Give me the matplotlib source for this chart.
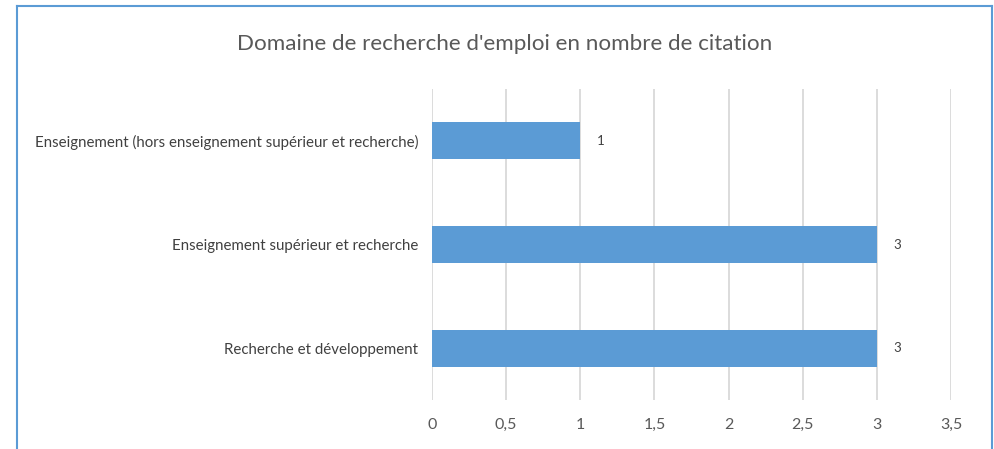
import matplotlib
matplotlib.use("Agg")
import matplotlib.pyplot as plt

categories = ["Enseignement (hors enseignement supérieur et recherche)",
              "Enseignement supérieur et recherche",
              "Recherche et développement"]
values = [1, 3, 3]
xticks = [0, 0.5, 1, 1.5, 2, 2.5, 3, 3.5]
xticklabels = ["0", "0,5", "1", "1,5", "2", "2,5", "3", "3,5"]
title = "Domaine de recherche d'emploi en nombre de citation"

plt.rcParams['font.family'] = ['Lato', 'DejaVu Sans']
W, H = 995, 449
fig = plt.figure(figsize=(W/100, H/100), dpi=100)
fig.patch.set_facecolor('white')

left, right = 432/W, 951/W
top, bottom = 1 - 89/H, 1 - 400/H
ax = fig.add_axes([left, bottom, right-left, top-bottom])

ypos = list(range(len(categories)))
ax.barh(ypos, values, height=0.36, color='#5B9BD5', zorder=3)
ax.set_ylim(len(categories)-0.5, -0.5)
ax.set_xlim(0, 3.5)
ax.set_yticks(ypos)
ax.set_yticklabels(categories, fontsize=10.8, color='#404040')
ax.set_xticks(xticks)
ax.set_xticklabels(xticklabels, fontsize=11.5, color='#595959')
ax.tick_params(axis='both', length=0)
ax.tick_params(axis='y', pad=10)
ax.tick_params(axis='x', pad=13)
ax.grid(axis='x', color='#D9D9D9', linewidth=1.3, zorder=0)
for s in ax.spines.values():
    s.set_visible(False)

for y, v in zip(ypos, values):
    ax.annotate(str(v), (v, y), xytext=(17, 0), textcoords='offset pixels',
                va='center', ha='left', fontsize=9.5, color='#404040')

fig.text(505/W, 1 - 44/H, title, ha='center', va='center', fontsize=16.1, color='#595959')

bc = '#5B9BD5'
fig.add_artist(plt.Line2D([17/W, 17/W], [0, 1 - 6/H], color=bc, lw=1.5, transform=fig.transFigure))
fig.add_artist(plt.Line2D([17/W, 992/W], [1 - 6/H, 1 - 6/H], color=bc, lw=1.5, transform=fig.transFigure))
fig.add_artist(plt.Line2D([992/W, 992/W], [0, 1 - 6/H], color=bc, lw=1.5, transform=fig.transFigure))

fig.savefig("out.png", dpi=100, facecolor='white')
